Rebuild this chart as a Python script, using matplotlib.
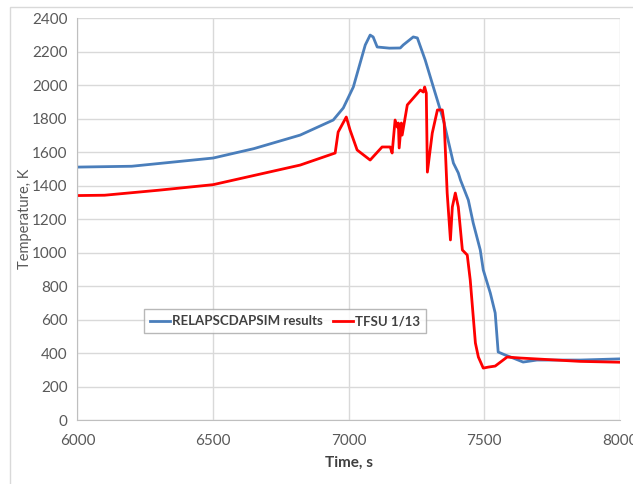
import matplotlib
matplotlib.use("Agg")
import matplotlib.pyplot as plt
from matplotlib.patches import Rectangle

plt.rcParams["font.family"] = ["Lato", "DejaVu Sans"]

# RELAP/SCDAPSIM calculation
sim_t = [6000, 6200, 6500, 6650, 6821, 6943, 6980, 7017, 7061, 7079, 7090,
         7105, 7150, 7190, 7201, 7238, 7253, 7282, 7312, 7349, 7386, 7404,
         7412, 7441, 7459, 7485, 7496, 7522, 7540, 7551, 7577, 7606, 7643,
         7694, 7854, 8000]
sim_T = [1510, 1515, 1564, 1620, 1701, 1791, 1863, 1988, 2239, 2298, 2287,
         2227, 2220, 2221, 2239, 2287, 2281, 2149, 1988, 1791, 1534, 1475,
         1433, 1313, 1176, 1015, 896, 758, 639, 406, 388, 370, 346,
         358, 358, 365]

# TFSU 1/13 measurement
exp_t = [6000, 6100, 6300, 6500, 6821, 6950, 6961, 6991, 7005, 7031, 7079,
         7123, 7153, 7160, 7171, 7179, 7183, 7186, 7194, 7197, 7216, 7264,
         7275, 7280, 7286, 7290, 7308, 7327, 7345, 7352, 7363, 7375, 7382,
         7393, 7404, 7419, 7437, 7448, 7467, 7478, 7496, 7515, 7540, 7584,
         7633, 7854, 8000]
exp_T = [1340, 1342, 1372, 1405, 1522, 1594, 1719, 1809, 1731, 1612, 1552,
         1630, 1630, 1594, 1791, 1749, 1773, 1624, 1773, 1701, 1881, 1970,
         1958, 1988, 1952, 1480, 1713, 1851, 1851, 1773, 1355, 1075, 1272,
         1355, 1272, 1015, 985, 836, 460, 376, 310, 316, 322, 376,
         370, 350, 345]

fig = plt.figure(figsize=(6.33, 4.84), dpi=100)
ax = fig.add_axes([0.1224, 0.1322, 0.857, 0.8306])

# chart frame
fig.patches.append(Rectangle((10 / 633, -0.05), 1.0, 1.05 - 7 / 484,
                             transform=fig.transFigure, fill=False,
                             edgecolor="#d9d9d9", lw=1.0))

ax.plot(sim_t, sim_T, color="#4a7ebb", lw=2.0, label="RELAPSCDAPSIM results")
ax.plot(exp_t, exp_T, color="#ff0000", lw=2.0, label="TFSU 1/13")

ax.set_xlim(6000, 8000)
ax.set_ylim(0, 2400)
ax.set_xticks(range(6000, 8001, 500))
ax.set_yticks(range(0, 2401, 200))
ax.grid(True, color="#d9d9d9", lw=1.0)
ax.set_axisbelow(True)
for side in ("top", "right"):
    ax.spines[side].set_visible(False)
for side in ("left", "bottom"):
    ax.spines[side].set_color("#bfbfbf")
ax.tick_params(length=0, labelsize=11, colors="#595959")
ax.tick_params(axis="x", pad=10)
ax.tick_params(axis="y", pad=7)

ax.set_xlabel("Time, s", fontsize=11, fontweight="bold", color="#404040",
              labelpad=6)
ax.set_ylabel("Temperature, K", fontsize=10.5, color="#595959", labelpad=0)

leg = ax.legend(loc="center", bbox_to_anchor=(0.383, 0.246), ncol=2,
                frameon=True, fancybox=False,
                prop={"family": ["Lato", "DejaVu Sans"], "weight": "bold",
                      "size": 9.5},
                handlelength=1.5, handletextpad=0.15, columnspacing=0.8,
                borderpad=0.45)
leg.get_frame().set_edgecolor("#a6a6a6")
leg.get_frame().set_linewidth(1.0)
for txt in leg.get_texts():
    txt.set_color("#404040")

fig.savefig("out.png", dpi=100)
